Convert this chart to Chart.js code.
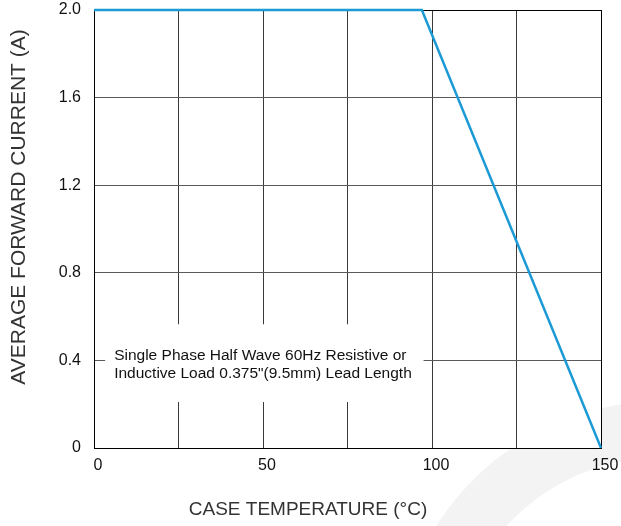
<!DOCTYPE html>
<html>
<head>
<meta charset="utf-8">
<script src="https://cdn.jsdelivr.net/npm/chart.js@4"></script>
<style>
  html, body { margin: 0; padding: 0; background: #fff; }
  #wrap { width: 621px; height: 526px; }
</style>
</head>
<body>
<div id="wrap"><canvas id="myChart" width="621" height="526"></canvas></div>
<script>
// derating curve
const temps = [0, 97, 150];
const current = [2.0, 2.0, 0];
const xTickLabels = [0, 50, 100, 150];
const yTickLabels = ["0", "0.4", "0.8", "1.2", "1.6", "2.0"];
const xTitle = "CASE TEMPERATURE (\u00b0C)";
const yTitle = "AVERAGE FORWARD CURRENT (A)";
const noteLines = [
    "Single Phase Half Wave 60Hz Resistive or",
    "Inductive Load 0.375\"(9.5mm) Lead Length"
];

const FONT = "'Liberation Sans', Arial, sans-serif";

const decor = {
    id: "decor",
    beforeDraw(chart) {
        const ctx = chart.ctx;
        const a = chart.chartArea;
        ctx.save();
        // faint watermark band bottom right
        ctx.fillStyle = "#f3f3f3";
        ctx.beginPath();
        ctx.arc(663, 669, 268, 0, Math.PI * 2);
        ctx.arc(663, 669, 212, 0, Math.PI * 2, true);
        ctx.fill("evenodd");
        ctx.fillStyle = "#fff";
        ctx.fillRect(a.left, a.top, a.right - a.left, a.bottom - a.top);
        ctx.restore();
    },
    beforeDatasetsDraw(chart) {
        const ctx = chart.ctx;
        const x = chart.scales.x, y = chart.scales.y;
        // note box hides grid lines
        const l = x.getPixelForValue(3.3), r = x.getPixelForValue(97.5);
        const t = y.getPixelForValue(0.565), b = y.getPixelForValue(0.21);
        ctx.save();
        ctx.fillStyle = "#fff";
        ctx.fillRect(l, t, r - l, b - t);
        ctx.fillStyle = "#111";
        ctx.font = "15.5px " + FONT;
        ctx.textBaseline = "alphabetic";
        ctx.textAlign = "left";
        noteLines.forEach((s, i) => ctx.fillText(s, l + 9, 360 + i * 18));
        ctx.restore();
    },
    afterDraw(chart) {
        const ctx = chart.ctx;
        ctx.save();
        ctx.fillStyle = "#333";
        ctx.textAlign = "center";
        ctx.textBaseline = "middle";
        ctx.font = "19px " + FONT;
        ctx.fillText(xTitle, 308, 510);
        ctx.translate(19, 207);
        ctx.rotate(-Math.PI / 2);
        ctx.font = "21px " + FONT;
        ctx.fillText(yTitle, 0, 0);
        ctx.restore();
    }
};

const ctx = document.getElementById("myChart").getContext("2d");
new Chart(ctx, {
    type: "line",
    data: {
        datasets: [
            {
                data: temps.map((t, i) => ({ x: t, y: current[i] })),
                borderColor: "#1b9ad6",
                borderWidth: 2.5,
                pointRadius: 0,
                fill: false,
                tension: 0,
                clip: false,
            },
        ],
    },
    options: {
        responsive: false,
        animation: false,
        devicePixelRatio: 1,
        layout: { padding: { top: 10, right: 20, left: 0, bottom: 0 } },
        plugins: {
            legend: { display: false },
            tooltip: { enabled: false },
        },
        scales: {
            x: {
                type: "linear",
                min: 0,
                max: 150,
                afterFit(s) {
                    s.height = 78;
                    s.paddingLeft = 0;
                    s.paddingRight = 0;
                },
                border: { display: true, color: "#000", width: 1 },
                grid: {
                    drawTicks: false,
                    color: (c) => (c.tick && (c.tick.value === 0 || c.tick.value === 150) ? "#000" : "#3a3a3a"),
                    lineWidth: 1,
                },
                ticks: {
                    stepSize: 25,
                    padding: 8,
                    labelOffset: 4,
                    maxRotation: 0,
                    autoSkip: false,
                    color: "#111",
                    font: { family: FONT, size: 16 },
                    callback: (v) => (xTickLabels.includes(v) ? String(v) : ""),
                },
            },
            y: {
                min: 0,
                max: 2.0,
                afterFit(s) {
                    s.width = 94;
                    s.paddingTop = 0;
                    s.paddingBottom = 0;
                },
                border: { display: true, color: "#000", width: 1 },
                grid: {
                    drawTicks: false,
                    color: (c) => (c.tick && (c.tick.value === 0 || c.tick.value === 2) ? "#000" : "#5a5a5a"),
                    lineWidth: 1,
                },
                ticks: {
                    stepSize: 0.4,
                    padding: 13,
                    color: "#111",
                    font: { family: FONT, size: 16 },
                    callback: (v, i) => yTickLabels[i],
                },
            },
        },
    },
    plugins: [decor],
});
</script>
</body>
</html>
